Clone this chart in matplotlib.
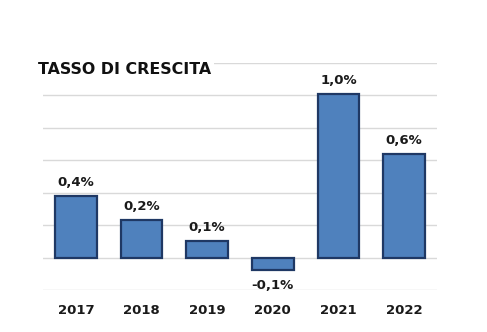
import numpy as np
import matplotlib
matplotlib.use("Agg")
import matplotlib.pyplot as plt

years = ["2017", "2018", "2019", "2020", "2021", "2022"]
growth = [0.38, 0.23, 0.10, -0.075, 1.01, 0.64]
labels = ["0,4%", "0,2%", "0,1%", "-0,1%", "1,0%", "0,6%"]
grid_ticks = [-0.2, 0.0, 0.2, 0.4, 0.6, 0.8, 1.0, 1.2]

fig = plt.figure(figsize=(4.87, 3.32), dpi=100)
# axes from x=43..437 px, y=63..290 px
ax = fig.add_axes([43/487, 1 - 290/332, (437-43)/487, (290-63)/332])

x = np.arange(len(years))
ax.bar(x, growth, width=0.63, color="#4F81BD", edgecolor="#1F3864",
       linewidth=1.6, zorder=3)

for k in range(len(x)):
    if growth[k] >= 0:
        ax.text(x[k], growth[k] + 0.045, labels[k], ha="center", va="bottom",
                fontsize=9.5, fontweight="bold", color="#1a1a1a")
    else:
        ax.text(x[k], growth[k] - 0.055, labels[k], ha="center", va="top",
                fontsize=9.5, fontweight="bold", color="#1a1a1a")

ax.set_xlim(-0.5, 5.5)
ax.set_ylim(-0.2, 1.2)
ax.set_yticks(grid_ticks)
ax.yaxis.grid(True, color="#d9d9d9", linewidth=1.0, zorder=0)
ax.set_yticklabels([])
ax.tick_params(axis="y", length=0)
ax.set_xticks(x)
ax.set_xticklabels(years, fontsize=9.5, fontweight="bold", color="#1a1a1a")
ax.tick_params(axis="x", length=0, pad=10)
for s in ax.spines.values():
    s.set_visible(False)

fig.text(38/487, 1 - 70/332, "TASSO DI CRESCITA", ha="left", va="center",
         fontsize=11.4, fontweight="bold", color="#111111",
         bbox=dict(facecolor="white", edgecolor="none", pad=2))

fig.savefig("out.png", dpi=100, facecolor="white")
